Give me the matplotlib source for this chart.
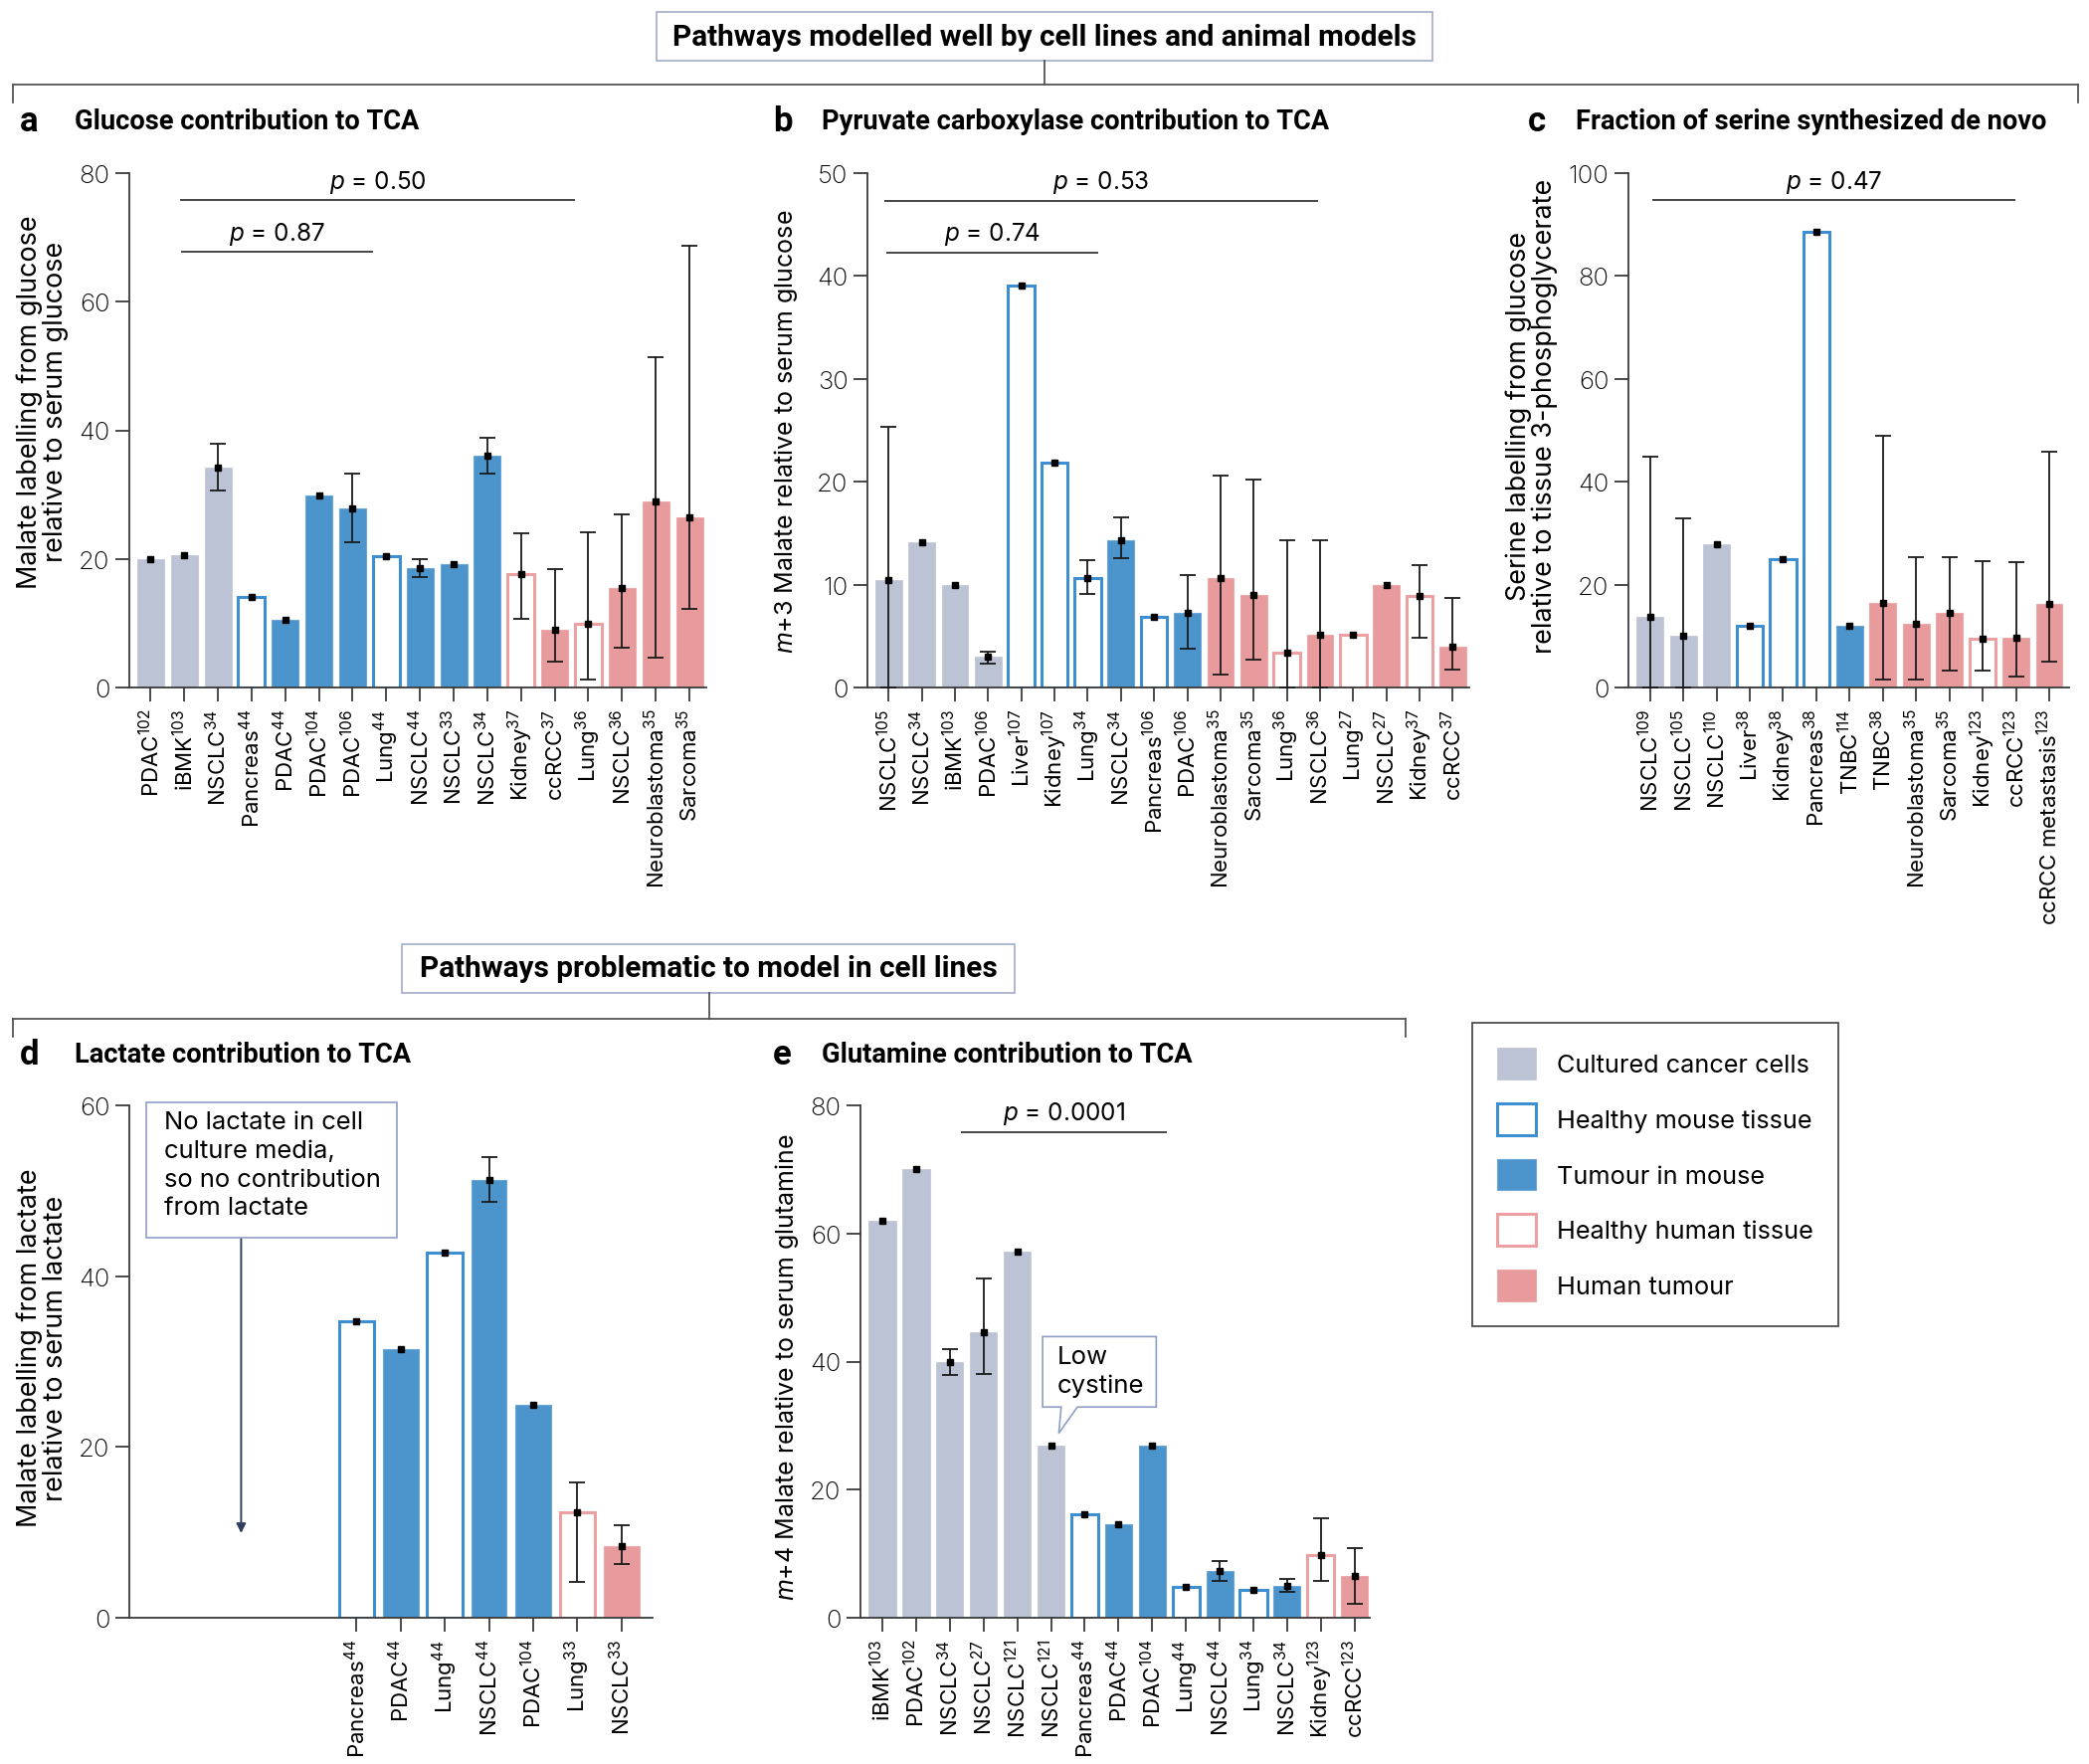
import matplotlib
matplotlib.use("Agg")
import matplotlib.pyplot as plt
from matplotlib.patches import Patch, Rectangle, Polygon
from matplotlib.lines import Line2D

plt.rcParams['font.family'] = ['Inter', 'DejaVu Sans']
plt.rcParams['mathtext.fontset'] = 'custom'
plt.rcParams['mathtext.rm'] = 'Inter'
plt.rcParams['mathtext.it'] = 'Inter:italic'
plt.rcParams['mathtext.bf'] = 'Inter:bold'

W, H = 2100, 1774

# category: 0 cultured, 1 healthy mouse, 2 tumour mouse, 3 healthy human, 4 human tumour
labels_a = ['PDAC$^{102}$', 'iBMK$^{103}$', 'NSCLC$^{34}$', 'Pancreas$^{44}$', 'PDAC$^{44}$',
            'PDAC$^{104}$', 'PDAC$^{106}$', 'Lung$^{44}$', 'NSCLC$^{44}$', 'NSCLC$^{33}$',
            'NSCLC$^{34}$', 'Kidney$^{37}$', 'ccRCC$^{37}$', 'Lung$^{36}$', 'NSCLC$^{36}$',
            'Neuroblastoma$^{35}$', 'Sarcoma$^{35}$']
cats_a = [0, 0, 0, 1, 2, 2, 2, 1, 2, 2, 2, 3, 4, 3, 4, 4, 4]
vals_a = [20.0, 20.6, 34.2, 14.1, 10.5, 29.8, 27.9, 20.5, 18.6, 19.2, 36.1, 17.6, 8.9, 9.9, 15.5, 29.0, 26.5]
lo_a = [None, None, 30.7, None, None, None, 22.6, None, 17.2, None, 33.2, 10.7, 4.0, 1.3, 6.2, 4.7, 12.2]
hi_a = [None, None, 37.9, None, None, None, 33.3, None, 20.0, None, 38.9, 24.0, 18.4, 24.1, 26.9, 51.4, 68.7]

labels_b = ['NSCLC$^{105}$', 'NSCLC$^{34}$', 'iBMK$^{103}$', 'PDAC$^{106}$', 'Liver$^{107}$',
            'Kidney$^{107}$', 'Lung$^{34}$', 'NSCLC$^{34}$', 'Pancreas$^{106}$', 'PDAC$^{106}$',
            'Neuroblastoma$^{35}$', 'Sarcoma$^{35}$', 'Lung$^{36}$', 'NSCLC$^{36}$', 'Lung$^{27}$',
            'NSCLC$^{27}$', 'Kidney$^{37}$', 'ccRCC$^{37}$']
cats_b = [0, 0, 0, 0, 1, 1, 1, 2, 1, 2, 4, 4, 3, 4, 3, 4, 3, 4]
vals_b = [10.4, 14.1, 10.0, 3.0, 39.1, 21.9, 10.6, 14.3, 6.9, 7.3, 10.6, 9.0, 3.4, 5.1, 5.1, 10.0, 8.9, 4.0]
lo_b = [0, None, None, 2.3, None, None, 9.1, 12.6, None, 3.8, 1.3, 2.7, 0, 0, None, None, 4.8, 1.7]
hi_b = [25.3, None, None, 3.5, None, None, 12.4, 16.5, None, 10.9, 20.6, 20.2, 14.3, 14.3, None, None, 11.9, 8.7]

labels_c = ['NSCLC$^{109}$', 'NSCLC$^{105}$', 'NSCLC$^{110}$', 'Liver$^{38}$', 'Kidney$^{38}$',
            'Pancreas$^{38}$', 'TNBC$^{114}$', 'TNBC$^{38}$', 'Neuroblastoma$^{35}$', 'Sarcoma$^{35}$',
            'Kidney$^{123}$', 'ccRCC$^{123}$', 'ccRCC metastasis$^{123}$']
cats_c = [0, 0, 0, 1, 1, 1, 2, 4, 4, 4, 3, 4, 4]
vals_c = [13.7, 10.0, 27.8, 11.9, 24.9, 88.6, 11.9, 16.5, 12.4, 14.6, 9.4, 9.6, 16.3]
lo_c = [0, 0, None, None, None, None, None, 1.6, 1.6, 3.3, 3.3, 2.1, 5.0]
hi_c = [44.9, 32.9, None, None, None, None, None, 48.9, 25.3, 25.3, 24.5, 24.3, 45.8]

labels_d = ['Pancreas$^{44}$', 'PDAC$^{44}$', 'Lung$^{44}$', 'NSCLC$^{44}$', 'PDAC$^{104}$',
            'Lung$^{33}$', 'NSCLC$^{33}$']
cats_d = [1, 2, 1, 2, 2, 3, 4]
vals_d = [34.7, 31.5, 42.7, 51.3, 24.9, 12.3, 8.4]
lo_d = [None, None, None, 48.7, None, 4.2, 6.3]
hi_d = [None, None, None, 53.9, None, 15.8, 10.8]

labels_e = ['iBMK$^{103}$', 'PDAC$^{102}$', 'NSCLC$^{34}$', 'NSCLC$^{27}$', 'NSCLC$^{121}$',
            'NSCLC$^{121}$', 'Pancreas$^{44}$', 'PDAC$^{44}$', 'PDAC$^{104}$', 'Lung$^{44}$',
            'NSCLC$^{44}$', 'Lung$^{34}$', 'NSCLC$^{34}$', 'Kidney$^{123}$', 'ccRCC$^{123}$']
cats_e = [0, 0, 0, 0, 0, 0, 1, 2, 2, 1, 2, 1, 2, 3, 4]
vals_e = [62.0, 70.0, 39.9, 44.6, 57.2, 26.8, 16.2, 14.6, 26.9, 4.8, 7.3, 4.4, 4.9, 9.8, 6.6]
lo_e = [None, None, 37.9, 38.0, None, None, None, None, None, None, 5.7, None, 4.0, 5.7, 2.2]
hi_e = [None, None, 41.9, 52.9, None, None, None, None, None, None, 8.9, None, 6.0, 15.6, 10.8]

legend_labels = ['Cultured cancer cells', 'Healthy mouse tissue', 'Tumour in mouse',
                 'Healthy human tissue', 'Human tumour']

GREY = '#BCC3D4'
BLUE = '#4C95CC'
BLUE_EDGE = '#3E8FD1'
PINK = '#E89B9C'
PINK_EDGE = '#ECA0A2'
STYLES = {
    0: dict(facecolor=GREY, edgecolor=GREY, linewidth=0.5),
    1: dict(facecolor='white', edgecolor=BLUE_EDGE, linewidth=2.2),
    2: dict(facecolor=BLUE, edgecolor='#6AA7D8', linewidth=0.8),
    3: dict(facecolor='white', edgecolor=PINK_EDGE, linewidth=2.2),
    4: dict(facecolor=PINK, edgecolor='#EDAAAB', linewidth=0.8),
}
LINE = '#3a3a3a'
BOLD = ['Roboto', 'DejaVu Sans']


def px_axes(l, t, r, b):
    return fig.add_axes([l / W, 1 - b / H, (r - l) / W, (b - t) / H])


def fline(x0, y0, x1, y1, **kw):
    fig.add_artist(Line2D([x0 / W, x1 / W], [1 - y0 / H, 1 - y1 / H],
                          transform=fig.transFigure, color='#555555', lw=1.3, **kw))


def draw_panel(ax, labels, cats, vals, lo, hi, ymax, step, xlim):
    x = list(range(len(vals)))
    for xi, v, c in zip(x, vals, cats):
        ax.bar(xi, v, 0.8, zorder=2, **STYLES[c])
    for xi, v, l, h in zip(x, vals, lo, hi):
        if l is None:
            continue
        ax.errorbar(xi, v, yerr=[[v - l], [h - v]], fmt='none', ecolor='#1a1a1a',
                    elinewidth=1.3, capsize=6, capthick=1.3, zorder=4)
    ax.plot(x, vals, 's', color='black', ms=4.5, zorder=5)
    ax.set_xlim(*xlim)
    ax.set_ylim(0, ymax)
    ax.set_yticks(range(0, ymax + 1, step))
    ax.set_xticks(x)
    ax.set_xticklabels(labels, rotation=90, fontsize=16)
    for t in ax.get_yticklabels():
        t.set_fontweight('light')
    ax.tick_params(axis='y', length=10, width=1.3, pad=4, labelsize=18.5, color=LINE)
    ax.tick_params(axis='x', length=10, width=1.3, pad=5, color=LINE)
    for s in ['top', 'right']:
        ax.spines[s].set_visible(False)
    for s in ['left', 'bottom']:
        ax.spines[s].set_color(LINE)
        ax.spines[s].set_linewidth(1.3)


def pline(ax, x0, x1, y, text):
    ax.plot([x0, x1], [y, y], color='#444444', lw=1.4, clip_on=False)
    ax.annotate('$p$ = ' + text, ((x0 + x1) / 2, y), xytext=(0, 4), textcoords='offset points',
                ha='center', va='bottom', fontsize=17.5, annotation_clip=False)


def ylabel(ax, x, y, text, size):
    ax.text(x, y, text, rotation=90, transform=ax.transAxes, ha='center', va='center',
            fontsize=size, linespacing=1.0)


fig = plt.figure(figsize=(W / 100, H / 100), dpi=100)

ax_a = px_axes(130, 175, 710, 692)
draw_panel(ax_a, labels_a, cats_a, vals_a, lo_a, hi_a, 80, 20, (-0.63, 16.5))
pline(ax_a, 0.9, 12.58, 75.8, '0.50')
pline(ax_a, 0.93, 6.58, 67.7, '0.87')
ylabel(ax_a, -0.15, 0.557, 'Malate labelling from glucose\nrelative to serum glucose', 19.4)

ax_b = px_axes(872, 175, 1477, 692)
draw_panel(ax_b, labels_b, cats_b, vals_b, lo_b, hi_b, 50, 10, (-0.64, 17.5))
pline(ax_b, -0.09, 12.9, 47.3, '0.53')
pline(ax_b, -0.05, 6.3, 42.3, '0.74')
ylabel(ax_b, -0.135, 0.5, '$m$+3 Malate relative to serum glucose', 18)

ax_c = px_axes(1637, 175, 2080, 692)
draw_panel(ax_c, labels_c, cats_c, vals_c, lo_c, hi_c, 100, 20, (-0.65, 12.6))
pline(ax_c, 0.09, 10.95, 94.7, '0.47')
ylabel(ax_c, -0.22, 0.53, 'Serine labelling from glucose\nrelative to tissue 3-phosphoglycerate', 19.4)

ax_d = px_axes(130, 1112, 656, 1627)
draw_panel(ax_d, labels_d, cats_d, vals_d, lo_d, hi_d, 60, 20, (-5.14, 6.7))
ylabel(ax_d, -0.165, 0.528, 'Malate labelling from lactate\nrelative to serum lactate', 19.4)
ax_d.add_patch(Rectangle((-4.76, 44.5), 5.67, 15.9, facecolor='white', edgecolor='#8F9EC6',
                         lw=1.2, clip_on=False, zorder=6))
ax_d.text(-4.35, 59.4, 'No lactate in cell\nculture media,\nso no contribution\nfrom lactate',
          ha='left', va='top', fontsize=18.4, linespacing=1.32, zorder=7)
ax_d.annotate('', xy=(-2.61, 9.9), xytext=(-2.61, 44.5),
              arrowprops=dict(arrowstyle='-|>', color='#2F3E5C', lw=1.4,
                              mutation_scale=14, shrinkA=0, shrinkB=0))

ax_e = px_axes(865, 1112, 1377, 1627)
draw_panel(ax_e, labels_e, cats_e, vals_e, lo_e, hi_e, 80, 20, (-0.65, 14.45))
pline(ax_e, 2.36, 8.39, 75.8, '0.0001')
ylabel(ax_e, -0.145, 0.49, '$m$+4 Malate relative to serum glutamine', 18)
ax_e.add_patch(Polygon([(4.75, 32.9), (5.30, 32.9), (5.23, 28.8), (5.78, 32.9), (8.12, 32.9),
                        (8.12, 43.9), (4.75, 43.9)], closed=True, facecolor='white',
                       edgecolor='#8F9EC6', lw=1.2, zorder=6))
ax_e.text(5.19, 38.5, 'Low\ncystine', ha='left', va='center', fontsize=18.6, linespacing=1.3, zorder=7)

# panel letters and titles
for lx, tx, y, letter, title in [
        (20, 75, 123, 'a', 'Glucose contribution to TCA'),
        (777, 826, 123, 'b', 'Pyruvate carboxylase contribution to TCA'),
        (1536, 1584, 123, 'c', 'Fraction of serine synthesized de novo'),
        (20, 75, 1061, 'd', 'Lactate contribution to TCA'),
        (777, 826, 1061, 'e', 'Glutamine contribution to TCA')]:
    fig.text(lx / W, 1 - y / H, letter, fontsize=25, fontweight='bold', va='center', family=BOLD)
    fig.text(tx / W, 1 - y / H, title, fontsize=19.6, fontweight='bold', va='center', family=BOLD)

# section banners
for (l, t, r, b), text, cx, ly, lx0, lx1 in [
        ((660, 13, 1440, 62), 'Pathways modelled well by cell lines and animal models', 1050, 86, 13, 2089),
        ((404, 950, 1020, 999), 'Pathways problematic to model in cell lines', 713, 1025, 13, 1413)]:
    fig.add_artist(Rectangle((l / W, 1 - b / H), (r - l) / W, (b - t) / H, transform=fig.transFigure,
                             facecolor='white', edgecolor='#A8B2CE', lw=1.3))
    fig.text((l + r) / 2 / W, 1 - (t + b) / 2 / H, text, ha='center', va='center', fontsize=21.4,
             fontweight='bold', family=BOLD)
    fline(cx, b, cx, ly)
    fline(lx0, ly, lx1, ly)
    fline(lx0, ly, lx0, ly + 18)
    fline(lx1, ly, lx1, ly + 18)

handles = [Patch(**STYLES[k]) for k in range(5)]
handles[1] = Patch(facecolor='white', edgecolor=BLUE_EDGE, linewidth=2.2)
handles[3] = Patch(facecolor='white', edgecolor=PINK_EDGE, linewidth=2.2)
leg = fig.legend(handles, legend_labels, loc='upper left', bbox_to_anchor=(1480 / W, 1 - 1029 / H),
                 frameon=True, fancybox=False, edgecolor='#222222', fontsize=18.2, handlelength=1.55,
                 handleheight=1.55, labelspacing=0.95, borderpad=1.0, handletextpad=0.8,
                 borderaxespad=0)
leg.get_frame().set_linewidth(1.3)

fig.savefig('out.png', dpi=100, facecolor='white')
